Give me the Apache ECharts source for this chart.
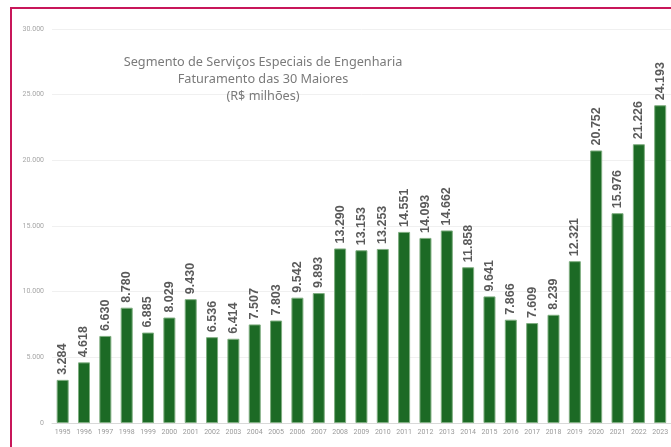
<!DOCTYPE html>
<html>
<head>
<meta charset="utf-8">
<script src="https://cdn.jsdelivr.net/npm/echarts@6/dist/echarts.min.js"></script>
<style>
  html, body { margin: 0; padding: 0; background: #fff; }
  #frame { position: absolute; left: 10px; top: 7px; width: 700px; height: 480px;
           border-left: 2px solid #c8175a; border-top: 2px solid #c8175a; }
  #chart { position: absolute; left: 0; top: 0; width: 671px; height: 447px; }
</style>
</head>
<body>
<div id="frame"></div>
<div id="chart"></div>
<script>
// Faturamento anual (R$ milhões) das 30 maiores empresas do segmento
const years = ['1995','1996','1997','1998','1999','2000','2001','2002','2003','2004',
  '2005','2006','2007','2008','2009','2010','2011','2012','2013','2014',
  '2015','2016','2017','2018','2019','2020','2021','2022','2023'];
const revenue = [3284, 4618, 6630, 8780, 6885, 8029, 9430, 6536, 6414, 7507,
  7803, 9542, 9893, 13290, 13153, 13253, 14551, 14093, 14662, 11858,
  9641, 7866, 7609, 8239, 12321, 20752, 15976, 21226, 24193];
const titleLines = ['Segmento de Serviços Especiais de Engenharia',
  'Faturamento das 30 Maiores', '(R$ milhões)'];

// Brazilian thousands separator
const fmt = v => String(v).replace(/\B(?=(\d{3})+(?!\d))/g, '.');

const chart = echarts.init(document.getElementById('chart'), null, { renderer: 'canvas' });
chart.setOption({
  backgroundColor: 'transparent',
  animation: false,
  title: {
    text: titleLines.join('\n'),
    left: 258, top: 49,
    textAlign: 'center',
    textStyle: { fontFamily: 'Noto Sans', fontSize: 12.7, fontWeight: 'normal',
                 color: '#7a7a7a', lineHeight: 17 }
  },
  grid: { left: 52, right: -4, top: 29, bottom: 24 },
  xAxis: {
    type: 'category',
    data: years,
    axisLine: { lineStyle: { color: '#d9d9d9', width: 1 } },
    axisTick: { show: false },
    axisLabel: { fontFamily: 'Roboto', fontSize: 7, color: '#9a9a9a', margin: 6, interval: 0 }
  },
  yAxis: {
    type: 'value',
    min: 0, max: 30000, interval: 5000,
    axisLine: { show: false },
    axisTick: { show: false },
    splitLine: { lineStyle: { color: '#f0f0f0', width: 1 } },
    axisLabel: { fontFamily: 'Roboto', fontSize: 7, color: '#a6a6a6', margin: 8,
                 formatter: v => fmt(v) }
  },
  series: [{
    type: 'bar',
    data: revenue,
    barWidth: 12,
    itemStyle: { color: '#1c6a25', borderColor: '#7fae80', borderWidth: 1 },
    label: {
      show: true,
      position: 'top',
      rotate: 90,
      align: 'left',
      verticalAlign: 'middle',
      distance: 5,
      fontFamily: 'Liberation Sans',
      fontSize: 12.5,
      fontWeight: 'bold',
      color: '#5a5a5a',
      formatter: p => fmt(p.value)
    }
  }]
});
</script>
</body>
</html>
